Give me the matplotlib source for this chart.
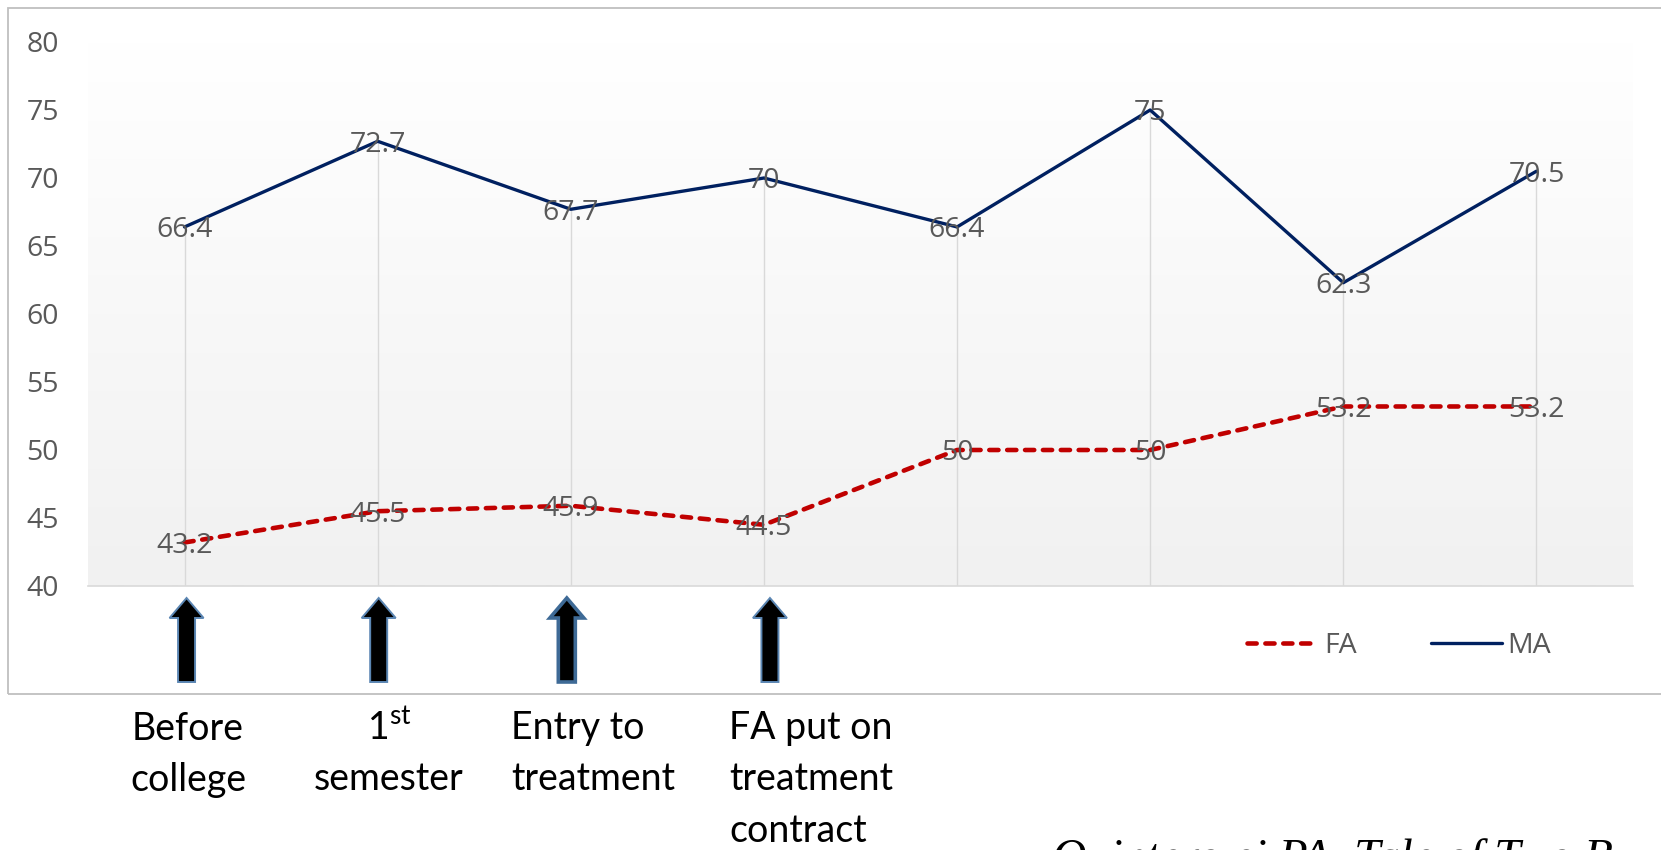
import numpy as np
import matplotlib.pyplot as plt
from matplotlib.patches import FancyArrow, Rectangle
from matplotlib.colors import LinearSegmentedColormap
import matplotlib.transforms as mtransforms

# survey points along the x axis (eight waves)
waves = np.arange(8)
fa_scores = [43.2, 45.5, 45.9, 44.5, 50, 50, 53.2, 53.2]
ma_scores = [66.4, 72.7, 67.7, 70, 66.4, 75, 62.3, 70.5]
y_ticks = [40, 45, 50, 55, 60, 65, 70, 75, 80]

# events marked under the first four waves
event_waves = [0, 1, 2, 3]
event_labels = [
    ["Before", "college"],
    ["1$^{\\mathrm{st}}$", "semester"],
    ["Entry to", "treatment"],
    ["FA put on", "treatment", "contract"],
]
citation = "Quintero ei PA, Tale of Two B"

W, H = 1661, 850
plt.rcParams['font.family'] = ['Open Sans', 'DejaVu Sans']
plt.rcParams['mathtext.fontset'] = 'custom'
plt.rcParams['mathtext.rm'] = 'Lato'

fig = plt.figure(figsize=(W / 100, H / 100), dpi=100)
fig.patch.set_facecolor('white')

# outer chart frame
fig.add_artist(Rectangle((8 / W, 1 - 694 / H), 1.0, (694 - 8) / H,
                         transform=fig.transFigure, fill=False,
                         edgecolor='#bfbfbf', linewidth=1.3))

ax = fig.add_axes([88 / W, 1 - 586 / H, (1633 - 88) / W, (586 - 42) / H])
ax.set_xlim(-0.5, 7.5)
ax.set_ylim(40, 80)
ax.patch.set_visible(False)

# plot area fill: white at the top fading into light grey
grad = np.linspace(1.0, 0.0, 256).reshape(-1, 1)
ax.imshow(grad, extent=(0, 1, 0, 1), transform=ax.transAxes, aspect='auto',
          cmap=LinearSegmentedColormap.from_list('bg', ['#f1f1f1', '#ffffff']),
          zorder=0)

# drop lines from the top series down to the axis
tops = np.maximum(fa_scores, ma_scores)
ax.vlines(waves, 40, tops, color='#d9d9d9', linewidth=1.0, zorder=1)

fa_line, = ax.plot(waves, fa_scores, color='#c00000', linewidth=3.3,
                   dashes=(2.0, 1.9), dash_capstyle='round', zorder=3, label='FA')
ma_line, = ax.plot(waves, ma_scores, color='#002060', linewidth=2.4,
                   solid_capstyle='round', zorder=3, label='MA')

for vals in (fa_scores, ma_scores):
    for x, v in zip(waves, vals):
        ax.text(x, v, f"{v:g}", ha='center', va='center_baseline',
                fontsize=20.5, color='#595959', zorder=4)

ax.set_yticks(y_ticks)
ax.set_xticks([])
ax.tick_params(axis='y', length=0, pad=21, labelsize=20.5, labelcolor='#595959')
for side in ('top', 'right', 'left'):
    ax.spines[side].set_visible(False)
ax.spines['bottom'].set_color('#d9d9d9')
ax.spines['bottom'].set_linewidth(1.2)

ax.legend(handles=[fa_line, ma_line], loc='center left', ncol=2,
          bbox_to_anchor=(1247 / W, 1 - 646 / H), bbox_transform=fig.transFigure,
          frameon=False, fontsize=20.5, labelcolor='#595959', borderpad=0,
          borderaxespad=0, handlelength=2.5, handletextpad=0.2,
          columnspacing=2.6)

# block arrows under the marked waves
axh = 586 - 42
blend = mtransforms.blended_transform_factory(ax.transData, ax.transAxes)
px = 1 / 193.1
arrow_shift = [2, 1, -4, 6]
for i, x in enumerate(event_waves):
    y_bottom = -(682 - 586) / axh
    length = (682 - 598) / axh
    edge = '#3e6a96' if i == 2 else '#5b86b3'
    lw = 2.6 if i == 2 else 1.4
    arrow = FancyArrow(x + arrow_shift[i] * px, y_bottom, 0, length,
                       width=17 * px, head_width=34 * px, head_length=20 / axh,
                       length_includes_head=True, transform=blend,
                       facecolor='black', edgecolor=edge, linewidth=lw,
                       clip_on=False, zorder=5)
    ax.add_patch(arrow)

# captions below the frame, in pixel coordinates
ov = fig.add_axes([0, 0, 1, 1], facecolor='none')
ov.set_xlim(0, W)
ov.set_ylim(H, 0)
ov.axis('off')
caption_x = [188, 389, 511, 729]
caption_ha = ['center', 'center', 'left', 'left']
for lines, cx, ha in zip(event_labels, caption_x, caption_ha):
    for k, line in enumerate(lines):
        ov.text(cx, 725 + 51 * k, line, ha=ha, va='center_baseline',
                fontsize=27, color='black', family=['Lato', 'DejaVu Sans'])

ov.text(1052, 871, citation, ha='left', va='baseline', fontsize=34,
        style='italic', family=['Liberation Serif', 'DejaVu Serif'],
        color='black', clip_on=False)

fig.savefig('out.png', dpi=100)
